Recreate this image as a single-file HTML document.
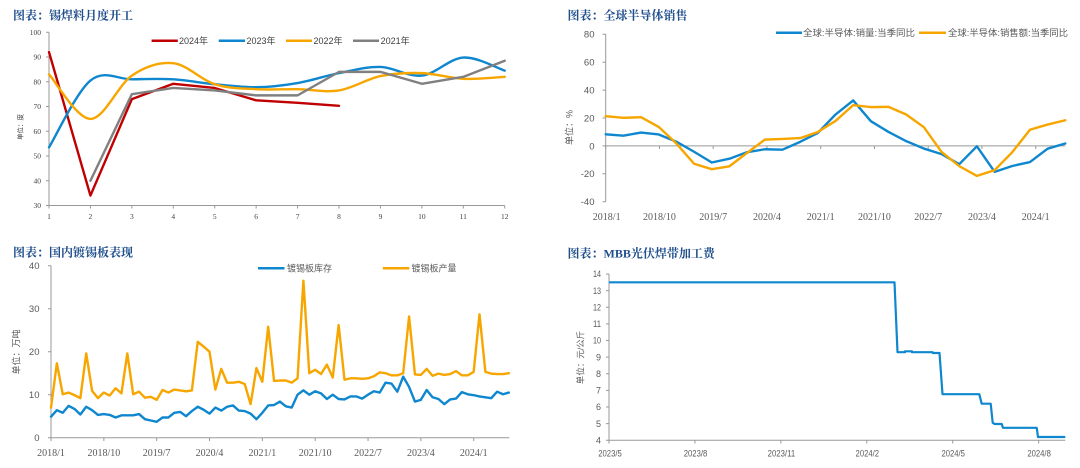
<!DOCTYPE html>
<html><head><meta charset="utf-8">
<style>
html,body{margin:0;padding:0;background:#fff;}
svg{display:block;}
.t{font-family:"Liberation Serif","Noto Serif CJK SC",serif;font-weight:bold;font-size:12px;fill:#1F4E8C;}
.s1{font-family:"Liberation Serif",serif;font-size:7.5px;fill:#404040;}
.lg{font-family:"Liberation Sans","Noto Sans CJK SC",sans-serif;font-size:9px;fill:#404040;}
.lg2{font-family:"Liberation Sans","Noto Sans CJK SC",sans-serif;font-size:9px;fill:#595959;}
.yl{font-family:"Liberation Sans",sans-serif;font-size:9.5px;fill:#595959;}
.xl{font-family:"Liberation Serif",serif;font-size:10px;fill:#595959;}
.n4{font-family:"Liberation Sans Narrow","Liberation Sans",sans-serif;font-size:9px;fill:#595959;}
.yt{font-family:"Liberation Sans","Noto Sans CJK SC",sans-serif;font-size:9px;fill:#595959;}
.ax{stroke:#999;stroke-width:1;fill:none;}
.ser{fill:none;stroke-width:2.4;stroke-linejoin:round;stroke-linecap:round;vector-effect:non-scaling-stroke;}
</style></head>
<body>
<svg width="1080" height="468" viewBox="0 0 1080 468" xmlns="http://www.w3.org/2000/svg">
<rect width="1080" height="468" fill="#fff"/>

<!-- Titles -->
<text class="t" x="13" y="19.5">图表：锡焊料月度开工</text>
<text class="t" x="567.5" y="19.5">图表：全球半导体销售</text>
<text class="t" x="13" y="256.5">图表：国内镀锡板表现</text>
<text class="t" x="567.5" y="257.5">图表：MBB光伏焊带加工费</text>

<!-- ============ Chart 1 ============ -->
<g>
<path class="ax" d="M49,32.3V205.5H504.7"/>
<path class="ax" d="M46,32.3H49M46,57.04H49M46,81.78H49M46,106.52H49M46,131.26H49M46,156H49M46,180.74H49M46,205.48H49"/>
<path class="ax" d="M49,205.5V208.5M90.43,205.5V208.5M131.86,205.5V208.5M173.29,205.5V208.5M214.72,205.5V208.5M256.15,205.5V208.5M297.58,205.5V208.5M339.01,205.5V208.5M380.44,205.5V208.5M421.87,205.5V208.5M463.3,205.5V208.5M504.73,205.5V208.5"/>
<g class="s1" text-anchor="end">
<text x="41" y="34.9">100</text><text x="41" y="59.6">90</text><text x="41" y="84.4">80</text><text x="41" y="109.1">70</text><text x="41" y="133.9">60</text><text x="41" y="158.6">50</text><text x="41" y="183.3">40</text><text x="41" y="208.1">30</text>
</g>
<g class="s1" text-anchor="middle">
<text x="49" y="219.2">1</text><text x="90.43" y="219.2">2</text><text x="131.86" y="219.2">3</text><text x="173.29" y="219.2">4</text><text x="214.72" y="219.2">5</text><text x="256.15" y="219.2">6</text><text x="297.58" y="219.2">7</text><text x="339.01" y="219.2">8</text><text x="380.44" y="219.2">9</text><text x="421.87" y="219.2">10</text><text x="463.3" y="219.2">11</text><text x="504.73" y="219.2">12</text>
</g>
<text transform="translate(22.5,127) rotate(-90)" text-anchor="middle" style="font-family:'Liberation Sans','Noto Sans CJK SC',sans-serif;font-size:6.5px;fill:#404040;">单位：度</text>
<!-- legend -->
<line x1="151.6" y1="40.7" x2="177.8" y2="40.7" stroke="#C00000" stroke-width="2.5"/>
<text class="lg" x="179" y="43.9">2024年</text>
<line x1="218.7" y1="40.7" x2="245" y2="40.7" stroke="#0F87CF" stroke-width="2.5"/>
<text class="lg" x="246.5" y="43.9">2023年</text>
<line x1="286" y1="40.7" x2="312" y2="40.7" stroke="#F7A600" stroke-width="2.5"/>
<text class="lg" x="313.5" y="43.9">2022年</text>
<line x1="353" y1="40.7" x2="379" y2="40.7" stroke="#808080" stroke-width="2.5"/>
<text class="lg" x="380.6" y="43.9">2021年</text>
<g transform="matrix(41.43 0 0 -2.474 7.57 279.7)">
<polyline class="ser" stroke="#C00000" points="1,92 2,34 3,73 4,79.2 5,77.5 6,72.5 7,71.5 8,70.3"/>
<path class="ser" stroke="#0F87CF" d="M1,53.5 C1.1667,58 1.6667,75.92 2,80.5 C2.3333,85.08 2.6667,80.92 3,81 C3.3333,81.08 3.6667,81.33 4,81 C4.3333,80.67 4.6667,79.53 5,79 C5.3333,78.47 5.6667,77.72 6,77.8 C6.3333,77.88 6.6667,78.55 7,79.5 C7.3333,80.45 7.6667,82.42 8,83.5 C8.3333,84.58 8.6667,86.17 9,86 C9.3333,85.83 9.6667,81.87 10,82.5 C10.3333,83.13 10.6667,89.47 11,89.8 C11.3333,90.13 11.8333,85.38 12,84.5"/>
<path class="ser" stroke="#F7A600" d="M1,83 C1.1667,80 1.6667,65.08 2,65 C2.3333,64.92 2.6667,78.75 3,82.5 C3.3333,86.25 3.6667,88.08 4,87.5 C4.3333,86.92 4.6667,80.75 5,79 C5.3333,77.25 5.6667,77.33 6,77 C6.3333,76.67 6.6667,77.08 7,77 C7.3333,76.92 7.6667,75.62 8,76.5 C8.3333,77.38 8.6667,81.13 9,82.3 C9.3333,83.47 9.6667,83.68 10,83.5 C10.3333,83.32 10.6667,81.45 11,81.2 C11.3333,80.95 11.8333,81.87 12,82"/>
<polyline class="ser" stroke="#808080" points="2,40 3,75 4,77.5 5,76.5 6,74.5 7,74.5 8,84 9,84 10,79.2 11,82 12,88.5"/>
</g>
</g>

<!-- ============ Chart 2 ============ -->
<g>
<path class="ax" d="M605.7,34.3V201.7"/>
<path class="ax" d="M602.5,34.3H605.7M602.5,62.2H605.7M602.5,90.1H605.7M602.5,118H605.7M602.5,145.9H605.7M602.5,173.8H605.7M602.5,201.7H605.7"/>
<path class="ax" d="M605.7,145.9H1065.3"/>
<path class="ax" d="M605.7,145.9V149M659.45,145.9V149M713.2,145.9V149M766.95,145.9V149M820.7,145.9V149M874.45,145.9V149M928.2,145.9V149M981.95,145.9V149M1035.7,145.9V149"/>
<g class="yl" text-anchor="end">
<text x="594.5" y="37.7">80</text><text x="594.5" y="65.6">60</text><text x="594.5" y="93.5">40</text><text x="594.5" y="121.4">20</text><text x="594.5" y="149.3">0</text><text x="594.5" y="177.2">-20</text><text x="594.5" y="205.1">-40</text>
</g>
<g class="xl" text-anchor="middle">
<text x="606.7" y="220.2">2018/1</text><text x="659.45" y="220.2">2018/10</text><text x="713.2" y="220.2">2019/7</text><text x="766.95" y="220.2">2020/4</text><text x="820.7" y="220.2">2021/1</text><text x="874.45" y="220.2">2021/10</text><text x="928.2" y="220.2">2022/7</text><text x="981.95" y="220.2">2023/4</text><text x="1035.7" y="220.2">2024/1</text>
</g>
<text class="yt" transform="translate(572.5,127.5) rotate(-90)" text-anchor="middle">单位：%</text>
<line x1="776" y1="32.7" x2="802" y2="32.7" stroke="#0F87CF" stroke-width="2.5"/>
<text class="lg2" x="803" y="35.9" textLength="112" lengthAdjust="spacingAndGlyphs">全球:半导体:销量:当季同比</text>
<line x1="919" y1="32.7" x2="946" y2="32.7" stroke="#F7A600" stroke-width="2.5"/>
<text class="lg2" x="948" y="35.9" textLength="120" lengthAdjust="spacingAndGlyphs">全球:半导体:销售额:当季同比</text>
<g transform="matrix(17.677 0 0 -1.395 605.7 145.9)">
<polyline class="ser" stroke="#0F87CF" points="0,8.3 1,7.3 2,9.6 3,8.2 4,3 5,-4.2 6,-11.9 7,-9.2 8,-4.5 9,-2.4 10,-2.7 11,2.9 12,9.3 13,22.5 14,32.6 15,17.7 16,10 17,3.4 18,-1.9 19,-5.9 20,-13.1 21,-0.3 22,-18.6 23,-14.4 24,-11.6 25,-2 26,1.7"/>
<polyline class="ser" stroke="#F7A600" points="0,21.3 1,20.1 2,20.6 3,13.6 4,1.7 5,-12.8 6,-16.7 7,-14.6 8,-5 9,4.5 10,5 11,5.6 12,10 13,17.9 14,29.2 15,27.8 16,28 17,22.5 18,13.4 19,-4.3 20,-14.5 21,-21.5 22,-17.4 23,-4.5 24,11.6 25,15.3 26,18.4"/>
</g>
</g>

<!-- ============ Chart 3 ============ -->
<g>
<path class="ax" d="M51,265.7V437.7H509.3"/>
<path class="ax" d="M48,265.7H51M48,308.7H51M48,351.7H51M48,394.7H51M48,437.7H51"/>
<path class="ax" d="M51,437.7V441M103.84,437.7V441M156.68,437.7V441M209.52,437.7V441M262.36,437.7V441M315.2,437.7V441M368.04,437.7V441M420.88,437.7V441M473.72,437.7V441"/>
<g class="yl" text-anchor="end">
<text x="39.5" y="269.1">40</text><text x="39.5" y="312.1">30</text><text x="39.5" y="355.1">20</text><text x="39.5" y="398.1">10</text><text x="39.5" y="441.1">0</text>
</g>
<g class="xl" text-anchor="middle">
<text x="51" y="455.8">2018/1</text><text x="103.84" y="455.8">2018/10</text><text x="156.68" y="455.8">2019/7</text><text x="209.52" y="455.8">2020/4</text><text x="262.36" y="455.8">2021/1</text><text x="315.2" y="455.8">2021/10</text><text x="368.04" y="455.8">2022/7</text><text x="420.88" y="455.8">2023/4</text><text x="473.72" y="455.8">2024/1</text>
</g>
<text class="yt" transform="translate(19.5,352) rotate(-90)" text-anchor="middle">单位：万吨</text>
<line x1="258" y1="268.3" x2="284.5" y2="268.3" stroke="#0F87CF" stroke-width="2.5"/>
<text class="lg2" x="287" y="271.5">镀锡板库存</text>
<line x1="382.8" y1="268.3" x2="409.3" y2="268.3" stroke="#F7A600" stroke-width="2.5"/>
<text class="lg2" x="411.5" y="271.5">镀锡板产量</text>
<g transform="matrix(5.87 0 0 -4.3 51 437.7)">
<polyline class="ser" stroke="#0F87CF" points="0,4.9 1,6.4 2,5.8 3,7.4 4,6.7 5,5.4 6,7.2 7,6.4 8,5.3 9,5.5 10,5.3 11,4.7 12,5.2 13,5.2 14,5.2 15,5.5 16,4.3 17,4 18,3.7 19,4.7 20,4.7 21,5.8 22,6 23,5 24,6.2 25,7.2 26,6.5 27,5.6 28,7 29,6.3 30,7.2 31,7.5 32,6.3 33,6.2 34,5.6 35,4.3 36,5.8 37,7.5 38,7.6 39,8.4 40,7.3 41,7 42,10 43,11 44,10 45,10.8 46,10.3 47,9 48,10 49,9 50,8.9 51,9.6 52,9.6 53,9.1 54,10 55,10.8 56,10.5 57,12.8 58,12.6 59,10.7 60,14.2 61,11.8 62,8.4 63,8.8 64,11.1 65,9.4 66,9 67,7.8 68,8.9 69,9.1 70,10.6 71,10.1 72,9.9 73,9.6 74,9.4 75,9.2 76,10.7 77,10.1 78,10.5"/>
<polyline class="ser" stroke="#F7A600" points="0,7 1,17.3 2,10.1 3,10.5 4,9.9 5,9.2 6,19.6 7,10.9 8,9.2 9,10.5 10,9.8 11,11.5 12,10.3 13,19.6 14,10.1 15,10.7 16,9.3 17,9.5 18,8.8 19,11.1 20,10.5 21,11.2 22,11 23,10.8 24,11 25,22.3 26,21.2 27,20 28,11.2 29,16 30,12.8 31,12.8 32,13 33,12.5 34,7.8 35,16.2 36,13 37,25.8 38,13.2 39,13.3 40,13.3 41,12.8 42,13.8 43,36.5 44,15 45,15.8 46,14.8 47,17 48,14 49,26.2 50,13.5 51,13.8 52,13.8 53,13.7 54,13.8 55,14.3 56,15.2 57,15 58,14.5 59,14.5 60,15 61,28.2 62,14.7 63,14.6 64,16 65,14.4 66,14.9 67,14.6 68,14.8 69,15.5 70,14.5 71,14.5 72,15.3 73,28.7 74,15.3 75,14.9 76,14.8 77,14.8 78,15"/>
</g>
</g>

<!-- ============ Chart 4 ============ -->
<g>
<path class="ax" d="M609,274V440.3H1065.3"/>
<path class="ax" d="M606,274H609M606,290.63H609M606,307.26H609M606,323.89H609M606,340.52H609M606,357.15H609M606,373.78H609M606,390.41H609M606,407.04H609M606,423.67H609M606,440.3H609"/>
<path class="ax" d="M609,440.3V443.5M694.93,440.3V443.5M780.86,440.3V443.5M866.79,440.3V443.5M952.72,440.3V443.5M1038.65,440.3V443.5"/>
<g class="n4" text-anchor="end">
<text x="601" y="277.2" textLength="8" lengthAdjust="spacingAndGlyphs">14</text>
<text x="601" y="293.8" textLength="8" lengthAdjust="spacingAndGlyphs">13</text>
<text x="601" y="310.5" textLength="8" lengthAdjust="spacingAndGlyphs">12</text>
<text x="601" y="327.1" textLength="8" lengthAdjust="spacingAndGlyphs">11</text>
<text x="601" y="343.7" textLength="8" lengthAdjust="spacingAndGlyphs">10</text>
<text x="601" y="360.4">9</text>
<text x="601" y="377">8</text>
<text x="601" y="393.6">7</text>
<text x="601" y="410.2">6</text>
<text x="601" y="426.9">5</text>
<text x="601" y="443.5">4</text>
</g>
<g class="n4" text-anchor="middle">
<text x="610" y="456.5" textLength="23.5" lengthAdjust="spacingAndGlyphs">2023/5</text>
<text x="695.5" y="456.5" textLength="23.5" lengthAdjust="spacingAndGlyphs">2023/8</text>
<text x="781.4" y="456.5" textLength="27.5" lengthAdjust="spacingAndGlyphs">2023/11</text>
<text x="867.3" y="456.5" textLength="23.5" lengthAdjust="spacingAndGlyphs">2024/2</text>
<text x="953.2" y="456.5" textLength="23.5" lengthAdjust="spacingAndGlyphs">2024/5</text>
<text x="1039.1" y="456.5" textLength="23.5" lengthAdjust="spacingAndGlyphs">2024/8</text>
</g>
<text class="yt" transform="translate(583.5,357.5) rotate(-90)" text-anchor="middle" style="font-size:8.5px">单位：元/公斤</text>
<path fill="none" stroke="#0F87CF" stroke-width="2.2" stroke-linejoin="round" d="M609,282.3 H894.5 L897.5,352.2 H905 V351.3 H912 V352.2 H932.7 V353 H939.5 L942.5,394.2 H979.3 L981.7,403.7 H990.7 L992.7,422.8 L994.7,424 H1001.7 L1003,427.8 H1036.7 L1038,437 H1065.3"/>
</g>
</svg>
</body></html>
